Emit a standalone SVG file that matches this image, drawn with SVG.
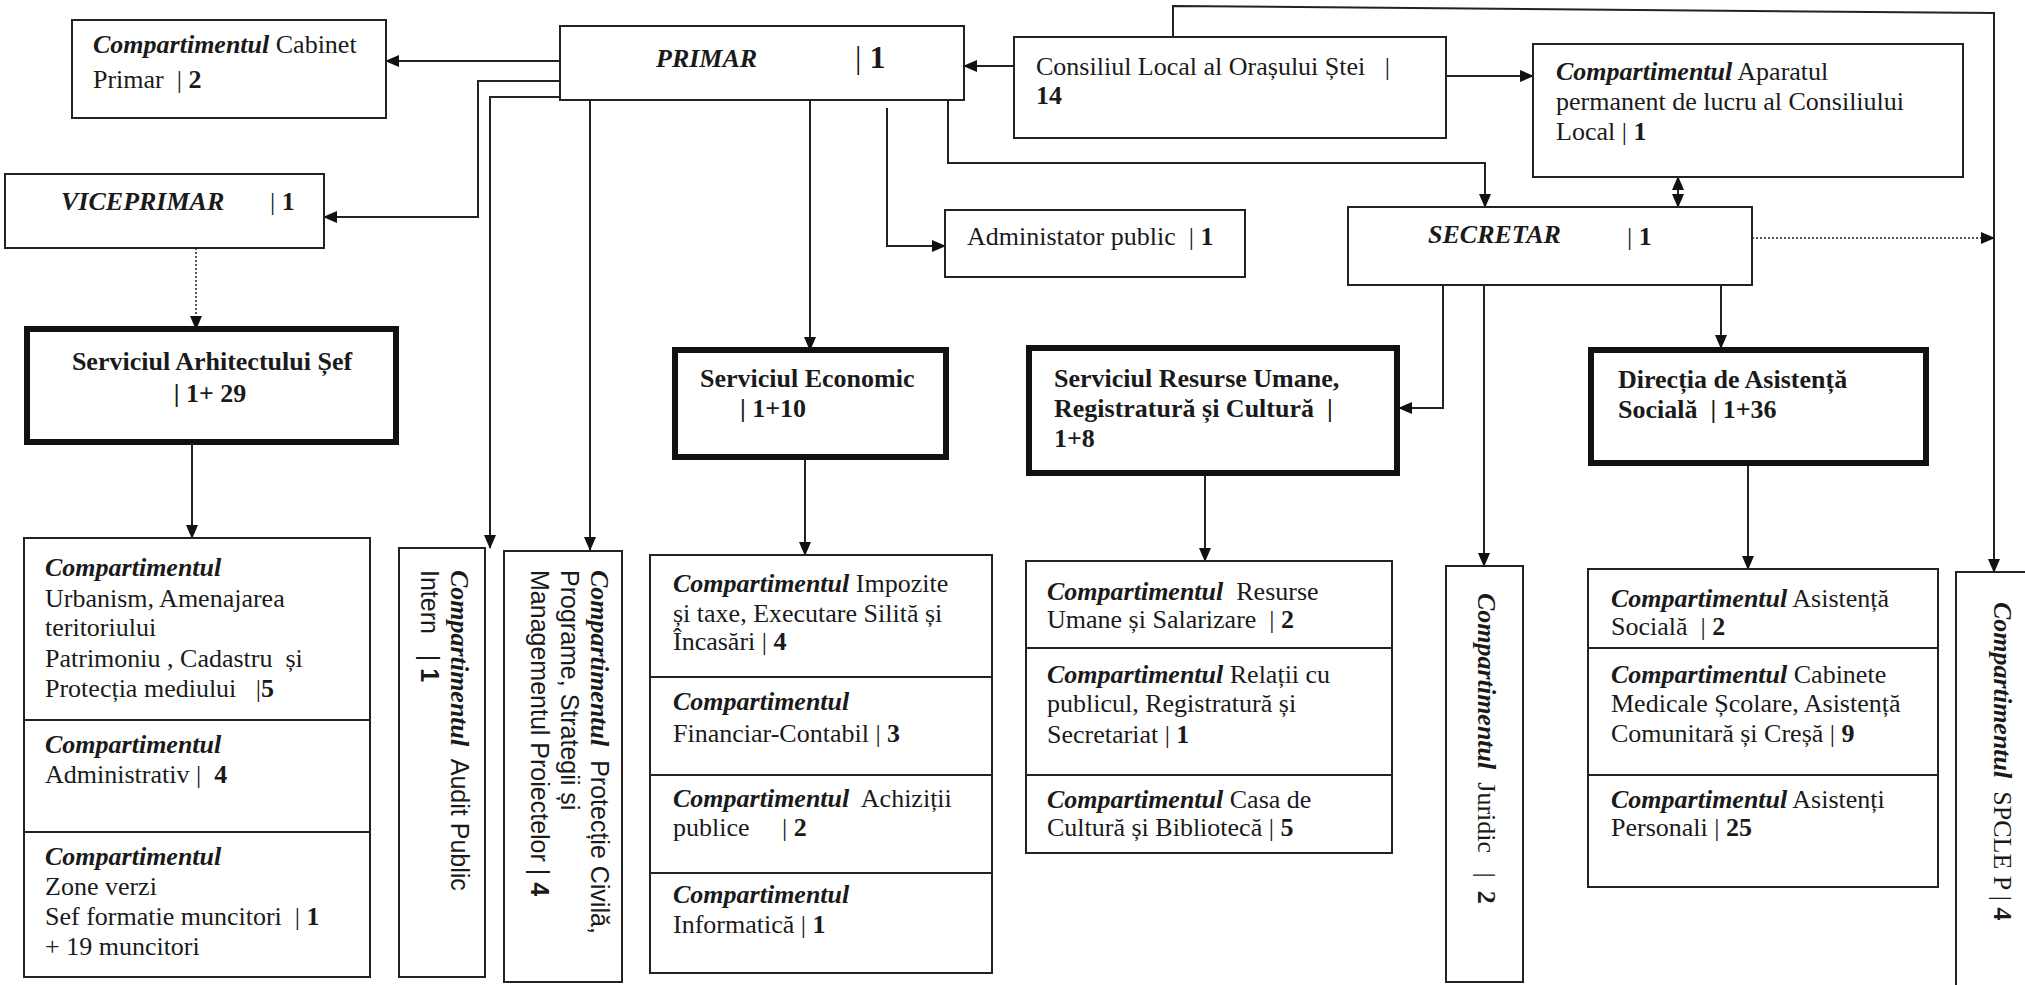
<svg xmlns="http://www.w3.org/2000/svg" width="2025" height="985" viewBox="0 0 2025 985">
<style>
text{font-family:"Liberation Serif","Times New Roman","DejaVu Serif",serif;font-size:26px;fill:#1a1a1a;white-space:pre}
.s{font-family:"Liberation Sans",Arial,sans-serif;font-size:25px}
.b{font-weight:bold}
.bi{font-weight:bold;font-style:italic}
.box{fill:#fff;stroke:#222;stroke-width:2}
.thick{fill:#fff;stroke:#111;stroke-width:6}
.div{stroke:#222;stroke-width:2}
.c{fill:none;stroke:#222;stroke-width:2}
.a{marker-end:url(#ah)}
.dot{stroke-dasharray:2 2;stroke-width:1.5}
</style>
<defs>
<marker id="ah" markerUnits="userSpaceOnUse" markerWidth="14" markerHeight="12" refX="13" refY="6" orient="auto-start-reverse"><path d="M0,0 L14,6 L0,12 z" fill="#111"/></marker>
</defs>
<rect width="2025" height="985" fill="#fff"/>

<g id="connectors">
<path class="c a" d="M560,61 L386,61"/>
<path class="c a" d="M560,81 L478,81 L478,217 L324,217"/>
<path class="c a" d="M560,97 L490,97 L490,548"/>
<path class="c a" d="M590,100 L590,550"/>
<path class="c a" d="M810,100 L810,350"/>
<path class="c a" d="M887,108 L887,246 L945,246"/>
<path class="c a" d="M948,100 L948,163 L1485,163 L1485,207"/>
<path class="c a" d="M1014,66 L964,66"/>
<path class="c a" d="M1446,76 L1533,76"/>
<path class="c a" d="M1173,37 L1173,6 L1994,13 L1994,572"/>
<path class="c a" d="M1678,177 L1678,207" marker-start="url(#ah)"/>
<path class="c a dot" d="M1752,238 L1994,238"/>
<path class="c a" d="M1443,285 L1443,408 L1399,408"/>
<path class="c a" d="M1484,285 L1484,566"/>
<path class="c a" d="M1721,285 L1721,348"/>
<path class="c a dot" d="M196,248 L196,329"/>
<path class="c a" d="M192,442 L192,538"/>
<path class="c a" d="M805,457 L805,555"/>
<path class="c a" d="M1205,473 L1205,561"/>
<path class="c a" d="M1748,463 L1748,569"/>
</g>

<g id="cabinet">
<rect class="box" x="72" y="20" width="314" height="98"/>
<text x="93" y="53"><tspan class="bi">Compartimentul</tspan> Cabinet</text>
<text x="93" y="88">Primar  | <tspan class="b">2</tspan></text>
</g>

<g id="primar">
<rect class="box" x="560" y="26" width="404" height="74"/>
<text x="656" y="67"><tspan class="bi">PRIMAR</tspan></text>
<text x="855" y="68" style="font-size:32px">| <tspan class="b">1</tspan></text>
</g>

<g id="viceprimar">
<rect class="box" x="5" y="174" width="319" height="74"/>
<text x="61" y="210"><tspan class="bi">VICEPRIMAR</tspan></text>
<text x="270" y="210">| <tspan class="b">1</tspan></text>
</g>

<g id="consiliul">
<rect class="box" x="1014" y="37" width="432" height="101"/>
<text x="1036" y="75">Consiliul Local al Orașului Ștei   |</text>
<text x="1036" y="104" class="b">14</text>
</g>

<g id="aparatul">
<rect class="box" x="1533" y="44" width="430" height="133"/>
<text x="1556" y="80"><tspan class="bi">Compartimentul</tspan> Aparatul</text>
<text x="1556" y="110">permanent de lucru al Consiliului</text>
<text x="1556" y="140">Local | <tspan class="b">1</tspan></text>
</g>

<g id="administator">
<rect class="box" x="945" y="210" width="300" height="67"/>
<text x="967" y="245">Administator public  | <tspan class="b">1</tspan></text>
</g>

<g id="secretar">
<rect class="box" x="1348" y="207" width="404" height="78"/>
<text x="1428" y="243"><tspan class="bi">SECRETAR</tspan></text>
<text x="1627" y="245">| <tspan class="b">1</tspan></text>
</g>

<g id="arhitect">
<rect class="thick" x="27" y="329" width="369" height="113"/>
<text x="212" y="370" class="b" text-anchor="middle">Serviciul Arhitectului Șef</text>
<text x="210" y="402" class="b" text-anchor="middle">| 1+ 29</text>
</g>

<g id="economic">
<rect class="thick" x="675" y="350" width="271" height="107"/>
<text x="700" y="387" class="b">Serviciul Economic</text>
<text x="740" y="417" class="b">| 1+10</text>
</g>

<g id="resurse">
<rect class="thick" x="1029" y="348" width="368" height="125"/>
<text x="1054" y="387" class="b">Serviciul Resurse Umane,</text>
<text x="1054" y="417" class="b">Registratură și Cultură  |</text>
<text x="1054" y="447" class="b">1+8</text>
</g>

<g id="directia">
<rect class="thick" x="1591" y="350" width="335" height="113"/>
<text x="1618" y="388" class="b">Direcția de Asistență</text>
<text x="1618" y="418" class="b">Socială  | 1+36</text>
</g>

<g id="urbanism">
<rect class="box" x="24" y="538" width="346" height="439"/>
<line class="div" x1="24" y1="720" x2="370" y2="720"/>
<line class="div" x1="24" y1="832" x2="370" y2="832"/>
<text x="45" y="576" class="bi">Compartimentul</text>
<text x="45" y="607">Urbanism, Amenajarea</text>
<text x="45" y="636">teritoriului</text>
<text x="45" y="667">Patrimoniu , Cadastru  și</text>
<text x="45" y="697">Protecția mediului   |<tspan class="b">5</tspan></text>
<text x="45" y="753" class="bi">Compartimentul</text>
<text x="45" y="783">Administrativ |  <tspan class="b">4</tspan></text>
<text x="45" y="865" class="bi">Compartimentul</text>
<text x="45" y="895">Zone verzi</text>
<text x="45" y="925">Sef formatie muncitori  | <tspan class="b">1</tspan></text>
<text x="45" y="955">+ 19 muncitori</text>
</g>

<g id="audit">
<rect class="box" x="399" y="548" width="86" height="429"/>
<text transform="translate(451,570) rotate(90)"><tspan class="bi">Compartimentul</tspan><tspan class="s">  Audit Public</tspan></text>
<text transform="translate(421,570) rotate(90)" class="s">Intern   | <tspan class="b">1</tspan></text>
</g>

<g id="protectie">
<rect class="box" x="504" y="551" width="118" height="431"/>
<text transform="translate(591,570) rotate(90)"><tspan class="bi">Compartimentul</tspan><tspan class="s">  Protecție Civilă,</tspan></text>
<text transform="translate(561,570) rotate(90)" class="s">Programe, Strategii și</text>
<text transform="translate(531,570) rotate(90)" class="s">Managementul Proiectelor | <tspan class="b">4</tspan></text>
</g>

<g id="economic-comp">
<rect class="box" x="650" y="555" width="342" height="418"/>
<line class="div" x1="650" y1="677" x2="992" y2="677"/>
<line class="div" x1="650" y1="775" x2="992" y2="775"/>
<line class="div" x1="650" y1="873" x2="992" y2="873"/>
<text x="673" y="592"><tspan class="bi">Compartimentul</tspan> Impozite</text>
<text x="673" y="622">și taxe, Executare Silită și</text>
<text x="673" y="650">Încasări | <tspan class="b">4</tspan></text>
<text x="673" y="710" class="bi">Compartimentul</text>
<text x="673" y="742">Financiar-Contabil | <tspan class="b">3</tspan></text>
<text x="673" y="807"><tspan class="bi">Compartimentul</tspan>  Achiziții</text>
<text x="673" y="836">publice     | <tspan class="b">2</tspan></text>
<text x="673" y="903" class="bi">Compartimentul</text>
<text x="673" y="933">Informatică | <tspan class="b">1</tspan></text>
</g>

<g id="resurse-comp">
<rect class="box" x="1026" y="561" width="366" height="292"/>
<line class="div" x1="1026" y1="648" x2="1392" y2="648"/>
<line class="div" x1="1026" y1="775" x2="1392" y2="775"/>
<text x="1047" y="600"><tspan class="bi">Compartimentul</tspan>  Resurse</text>
<text x="1047" y="628">Umane și Salarizare  | <tspan class="b">2</tspan></text>
<text x="1047" y="683"><tspan class="bi">Compartimentul</tspan> Relații cu</text>
<text x="1047" y="712">publicul, Registratură și</text>
<text x="1047" y="743">Secretariat | <tspan class="b">1</tspan></text>
<text x="1047" y="808"><tspan class="bi">Compartimentul</tspan> Casa de</text>
<text x="1047" y="836">Cultură și Bibliotecă | <tspan class="b">5</tspan></text>
</g>

<g id="juridic">
<rect class="box" x="1446" y="566" width="77" height="416"/>
<text transform="translate(1478,593) rotate(90)"><tspan class="bi">Compartimentul</tspan>  Juridic   |  <tspan class="b">2</tspan></text>
</g>

<g id="asistenta-comp">
<rect class="box" x="1588" y="569" width="350" height="318"/>
<line class="div" x1="1588" y1="648" x2="1938" y2="648"/>
<line class="div" x1="1588" y1="775" x2="1938" y2="775"/>
<text x="1611" y="607"><tspan class="bi">Compartimentul</tspan> Asistență</text>
<text x="1611" y="635">Socială  | <tspan class="b">2</tspan></text>
<text x="1611" y="683"><tspan class="bi">Compartimentul</tspan> Cabinete</text>
<text x="1611" y="712">Medicale Școlare, Asistență</text>
<text x="1611" y="742">Comunitară și Creșă | <tspan class="b">9</tspan></text>
<text x="1611" y="808"><tspan class="bi">Compartimentul</tspan> Asistenți</text>
<text x="1611" y="836">Personali | <tspan class="b">25</tspan></text>
</g>

<g id="spcle">
<rect class="box" x="1956" y="572" width="90" height="430"/>
<text transform="translate(1994,602) rotate(90)"><tspan class="bi">Compartimentul</tspan>  SPCLE P | <tspan class="b">4</tspan></text>
</g>
</svg>
